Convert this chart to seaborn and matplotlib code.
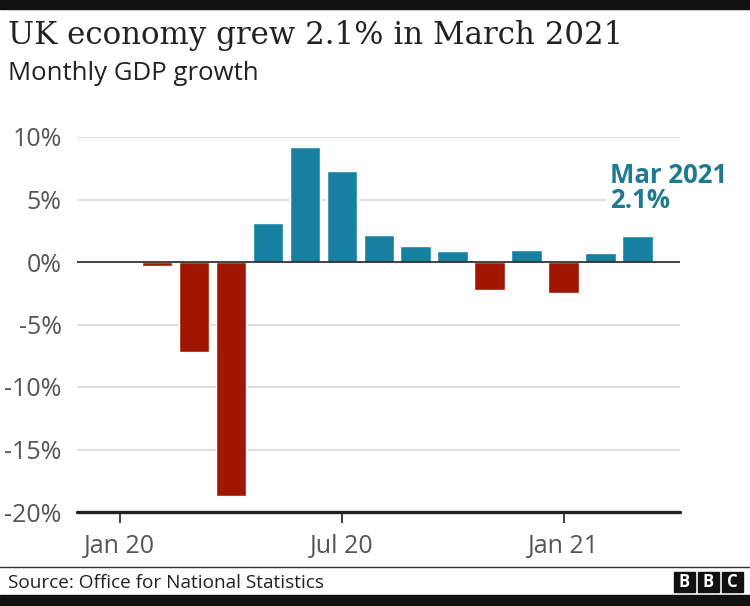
import matplotlib.pyplot as plt
import matplotlib.patches as mpatches
import seaborn as sns
import pandas as pd

months = ["Jan 20", "Feb 20", "Mar 20", "Apr 20", "May 20", "Jun 20", "Jul 20", "Aug 20",
          "Sep 20", "Oct 20", "Nov 20", "Dec 20", "Jan 21", "Feb 21", "Mar 21"]
growth = [0.1, -0.3, -7.2, -18.7, 3.1, 9.2, 7.3, 2.2, 1.3, 0.9, -2.2, 1.0, -2.5, 0.7, 2.1]
tick_months = ["Jan 20", "Jul 20", "Jan 21"]
y_ticks = [10, 5, 0, -5, -10, -15, -20]

BLUE = "#1780a1"
RED = "#a11600"

df = pd.DataFrame({"month": months, "growth": growth})
df["sign"] = ["pos" if g >= 0 else "neg" for g in growth]

sns.set_style("white")
plt.rcParams["font.family"] = ["Open Sans", "DejaVu Sans"]

W, H = 750, 606
fig = plt.figure(figsize=(7.5, 6.06), dpi=100)
ax = fig.add_axes([77 / W, 1 - 512 / H, (680 - 77) / W, (512 - 137) / H])

sns.barplot(data=df, x="month", y="growth", hue="sign", order=months,
            palette={"pos": BLUE, "neg": RED}, dodge=False, legend=False,
            width=0.82, saturation=1, ax=ax, zorder=3)

ax.set_ylim(-20, 10)
ax.set_xlim(-1.16, 15.15)
ax.set_yticks(y_ticks)
ax.set_yticklabels([f"{t}%" for t in y_ticks])
for t in y_ticks:
    if t not in (0, -20):
        ax.axhline(t, color="#d9d9d9", lw=1.2, zorder=1)
ax.axhline(0, color="#222222", lw=1.2, zorder=4)
ax.axhline(-20, color="#222222", lw=2.4, zorder=4, clip_on=False)

ax.set_xticks([months.index(m) for m in tick_months])
ax.set_xticklabels(tick_months)
ax.set_xlabel("")
ax.set_ylabel("")
for s in ax.spines.values():
    s.set_visible(False)
ax.tick_params(axis="y", left=False, length=0, pad=11, labelsize=18, labelcolor="#555555")
ax.tick_params(axis="x", bottom=True, length=8, width=1.2, color="#222222", pad=8,
               labelsize=18, labelcolor="#555555", direction="out")

# annotation for the latest month
ax.text(13.27, 5.9, "Mar 2021\n2.1%", color="#1e7a8f", fontsize=18.5, fontweight="bold",
        ha="left", va="center", linespacing=0.92, zorder=5,
        bbox=dict(facecolor="white", edgecolor="none", pad=3))

# titles
fig.text(8 / W, 1 - 44 / H, "UK economy grew 2.1% in March 2021", family="DejaVu Serif",
         fontsize=22.2, color="#222222", va="baseline")
fig.text(8 / W, 1 - 80 / H, "Monthly GDP growth", fontsize=18.5, color="#222222", va="baseline")

# top / bottom bands
fig.patches.append(mpatches.Rectangle((0, 1 - 9 / H), 1, 9 / H, transform=fig.transFigure,
                                      color="#111111"))
fig.patches.append(mpatches.Rectangle((0, 0), 1, 11 / H, transform=fig.transFigure,
                                      color="#111111"))
fig.add_artist(plt.Line2D([0, 1], [1 - 567 / H, 1 - 567 / H], transform=fig.transFigure,
                          color="#333333", lw=1))
fig.text(8 / W, 1 - 588 / H, "Source: Office for National Statistics", fontsize=13.7,
         color="#222222", va="baseline")

# BBC blocks
for i, letter in enumerate("BBC"):
    x0 = 674 + i * 24
    fig.patches.append(mpatches.Rectangle((x0 / W, 1 - 592 / H), 21 / W, 20 / H,
                                          transform=fig.transFigure, color="#111111"))
    fig.text((x0 + 10.5) / W, 1 - 582 / H, letter, color="white", fontsize=12,
             fontweight="bold", ha="center", va="center")

fig.savefig("out.png", dpi=100, facecolor="white")
